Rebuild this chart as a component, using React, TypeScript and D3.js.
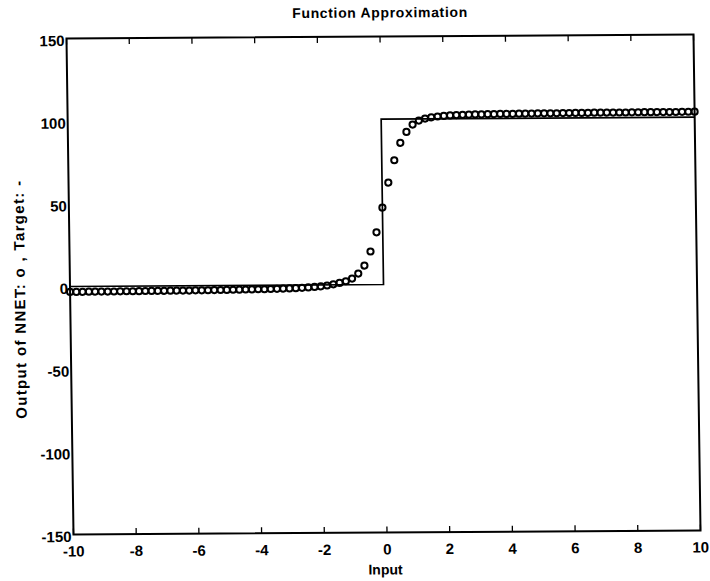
import React from "react";
import * as d3 from "d3";

const inputs: number[] = d3.range(0, 101).map((i) => -10 + i * 0.2);
const nnetOutput: number[] = [
  -3.3, -3.3, -3.3, -3.2, -3.2, -3.2, -3.2, -3.2, -3.1, -3.1,
  -3.1, -3.1, -3.0, -3.0, -3.0, -3.0, -2.9, -2.9, -2.9, -2.9,
  -2.8, -2.8, -2.8, -2.7, -2.7, -2.7, -2.6, -2.6, -2.5, -2.5,
  -2.4, -2.4, -2.3, -2.2, -2.1, -2.0, -1.9, -1.7, -1.5, -1.2,
  -0.9, -0.4, 0.3, 1.1, 2.1, 3.7, 6.7, 11.5, 20.0, 31.6,
  46.5, 61.6, 75.1, 85.6, 92.2, 96.6, 99.0, 100.2, 100.9, 101.4,
  101.7, 102.0, 102.2, 102.3, 102.4, 102.5, 102.5, 102.6, 102.6, 102.7,
  102.7, 102.7, 102.8, 102.8, 102.8, 102.9, 102.9, 102.9, 102.9, 103.0,
  103.0, 103.0, 103.0, 103.0, 103.1, 103.1, 103.1, 103.1, 103.1, 103.1,
  103.2, 103.2, 103.2, 103.2, 103.2, 103.2, 103.2, 103.2, 103.3, 103.3,
  103.3,
];
const targetX: number[] = [-10, 0, 0, 10];
const targetY: number[] = [0, 0, 100, 100];
const xTicks: number[] = [-10, -8, -6, -4, -2, 0, 2, 4, 6, 8, 10];
const yTicks: number[] = [150, 100, 50, 0, -50, -100, -150];

const titleText = "Function Approximation";
const xLabelText = "Input";
const yLabelText = "Output of NNET: o ,  Target: -";

const W = 627;
const H = 496;
const FONT = "'Liberation Sans', Arial, Helvetica, sans-serif";

export default function App() {
  const x = d3.scaleLinear().domain([-10, 10]).range([0, W]);
  const y = d3.scaleLinear().domain([-150, 150]).range([H, 0]);
  const line = d3
    .line<number>()
    .x((_, i) => x(targetX[i]))
    .y((d) => y(d));
  const skew = `matrix(1, ${-4 / 627}, ${7 / 496}, 1, 66.5, 38.5)`;
  return (
    <svg
      width={710}
      height={581}
      style={{ position: "absolute", left: 0, top: 0, background: "#fff" }}
    >
      <rect x={0} y={0} width={710} height={581} fill="#fff" />
      <g transform={skew} fontFamily={FONT} fontWeight="bold" fill="#000">
        <text
          x={W / 2}
          y={-19}
          textAnchor="middle"
          fontSize={14}
          textLength={175}
          lengthAdjust="spacing"
        >
          {titleText}
        </text>
        <path d={line(targetY) || ""} fill="none" stroke="#000" strokeWidth={1.7} />
        {nnetOutput.map((v, i) => (
          <circle
            key={i}
            cx={x(inputs[i])}
            cy={y(v)}
            r={3.1}
            fill="none"
            stroke="#000"
            strokeWidth={2}
          />
        ))}
        <rect x={0} y={0} width={W} height={H} fill="none" stroke="#000" strokeWidth={2} />
        {xTicks.map((t) => (
          <g key={"x" + t}>
            <line x1={x(t)} x2={x(t)} y1={H} y2={H - 6} stroke="#000" strokeWidth={1.3} />
            <line x1={x(t)} x2={x(t)} y1={0} y2={6} stroke="#000" strokeWidth={1.3} />
            <text x={x(t)} y={H + 22} textAnchor="middle" fontSize={15}>
              {t}
            </text>
          </g>
        ))}
        {yTicks.map((t) => (
          <text key={"y" + t} x={-2} y={y(t) + 7.5} textAnchor="end" fontSize={15}>
            {t}
          </text>
        ))}
        <text x={W / 2 - 2} y={H + 42} textAnchor="middle" fontSize={14}>
          {xLabelText}
        </text>
        <text
          transform={`translate(-45, 261) rotate(-90)`}
          textAnchor="middle"
          fontSize={15}
          textLength={238}
          lengthAdjust="spacing"
        >
          {yLabelText}
        </text>
      </g>
    </svg>
  );
}
